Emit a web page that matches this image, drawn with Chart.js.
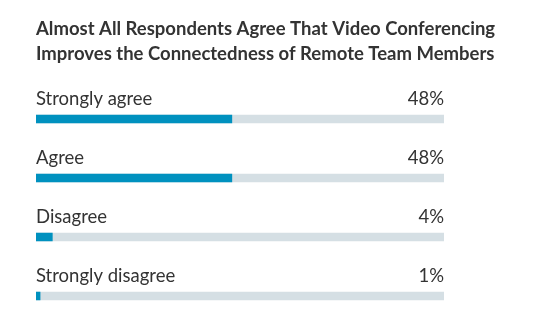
<!DOCTYPE html>
<html>
<head>
<meta charset="utf-8">
<script src="https://cdn.jsdelivr.net/npm/chart.js@4"></script>
<style>
  html, body { margin: 0; padding: 0; background: #fff; }
  canvas { display: block; }
</style>
</head>
<body>
<canvas id="chart" width="538" height="330"></canvas>
<script>
const titleLines = [
  'Almost All Respondents Agree That Video Conferencing',
  'Improves the Connectedness of Remote Team Members'
];
const categories = ['Strongly agree', 'Agree', 'Disagree', 'Strongly disagree'];
const shares = [48, 48, 4, 1];
const fullTrack = [100, 100, 100, 100];

const textColor = '#333';

// title plus a label / percent row above each bar
const labelsPlugin = {
  id: 'rowLabels',
  afterDatasetsDraw(chart) {
    const { ctx, chartArea } = chart;
    ctx.save();
    ctx.fillStyle = textColor;
    ctx.textBaseline = 'alphabetic';

    ctx.font = 'bold 18.5px Lato';
    ctx.textAlign = 'left';
    ctx.fillText(titleLines[0], chartArea.left, 35);
    ctx.fillText(titleLines[1], chartArea.left, 60);

    const meta = chart.getDatasetMeta(1);
    ctx.font = '18.5px Lato';
    meta.data.forEach((bar, i) => {
      const y = bar.y - 14;
      ctx.textAlign = 'left';
      ctx.fillText(categories[i], chartArea.left, y);
      ctx.textAlign = 'right';
      ctx.fillText(shares[i] + '%', chartArea.right, y);
    });
    ctx.restore();
  }
};

new Chart(document.getElementById('chart'), {
  type: 'bar',
  data: {
    labels: categories,
    datasets: [
      {
        data: shares,
        backgroundColor: '#0091bf',
        barThickness: 8,
        grouped: false,
        order: 0
      },
      {
        data: fullTrack,
        backgroundColor: '#d5dfe4',
        barThickness: 8,
        grouped: false,
        order: 1
      }
    ]
  },
  options: {
    indexAxis: 'y',
    responsive: false,
    animation: false,
    layout: { padding: { left: 36, right: 94, top: 89.5, bottom: 4.5 } },
    plugins: {
      legend: { display: false },
      tooltip: { enabled: false },
      title: { display: false }
    },
    scales: {
      x: { min: 0, max: 100, display: false },
      y: { display: false }
    }
  },
  plugins: [labelsPlugin]
});
</script>
</body>
</html>
